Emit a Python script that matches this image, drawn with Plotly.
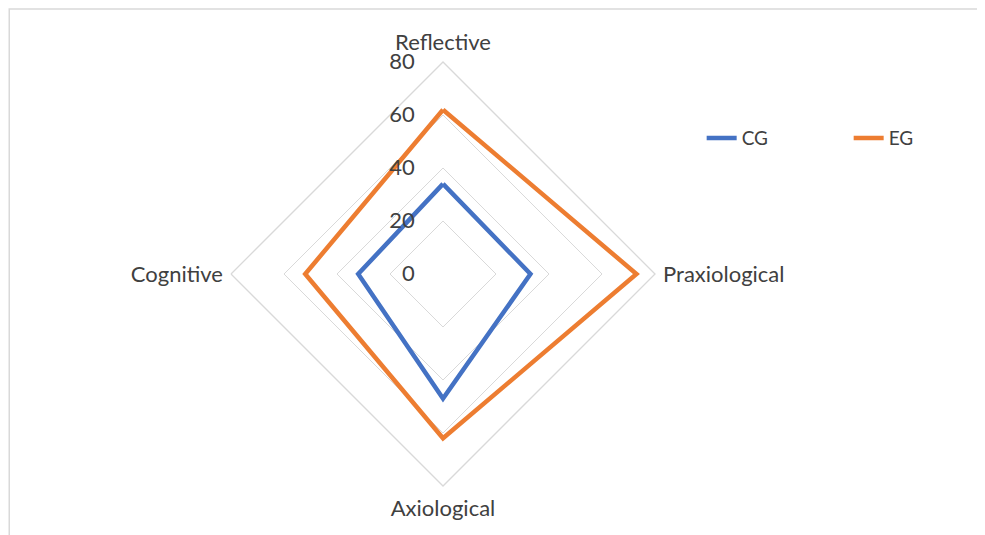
import plotly.graph_objects as go

categories = ["Reflective", "Praxiological", "Axiological", "Cognitive"]
cg_values = [34, 33, 47, 32]
eg_values = [62, 73, 62, 52]
radial_ticks = [0, 20, 40, 60, 80]

FONT = "Lato"
TEXT = "#404040"

fig = go.Figure()
for name, vals, color in [("CG", cg_values, "#4472C4"), ("EG", eg_values, "#ED7D31")]:
    fig.add_trace(go.Scatterpolar(
        r=vals + vals[:1], theta=categories + categories[:1],
        mode="lines", name=name,
        line=dict(color=color, width=4.5),
    ))

fig.update_layout(
    width=977, height=527,
    margin=dict(l=223, r=330, t=54, b=49, autoexpand=False),
    paper_bgcolor="white", plot_bgcolor="white",
    font=dict(family=FONT, size=22, color=TEXT),
    polar=dict(
        bgcolor="white",
        gridshape="linear",
        domain=dict(x=[0, 1], y=[0, 1]),
        radialaxis=dict(
            range=[0, 80], tickvals=radial_ticks, ticktext=[str(v) for v in radial_ticks],
            angle=90, tickangle=90, side="counterclockwise",
            showline=False, ticks="outside", ticklen=20, tickcolor="rgba(0,0,0,0)",
            gridcolor="#D9D9D9", gridwidth=1.3,
            tickfont=dict(family=FONT, size=22, color=TEXT),
        ),
        angularaxis=dict(
            rotation=90, direction="clockwise",
            showgrid=False, showline=True, linecolor="#D9D9D9", linewidth=1.3,
            ticks="outside", ticklen=3, tickcolor="rgba(0,0,0,0)",
            tickfont=dict(family=FONT, size=22, color=TEXT),
        ),
    ),
    showlegend=True,
    legend=dict(
        orientation="h", xref="container", yref="container",
        x=0.710, y=0.753, xanchor="left", yanchor="middle",
        font=dict(family=FONT, size=19, color=TEXT),
        entrywidth=102, entrywidthmode="pixels", bgcolor="rgba(0,0,0,0)",
    ),
    shapes=[dict(
        type="rect", xref="paper", yref="paper",
        x0=-0.523, x1=1.8, y0=-0.2, y1=1.125,
        line=dict(color="#D9D9D9", width=1.5), layer="below",
    )],
)

fig.write_html("out.html")
